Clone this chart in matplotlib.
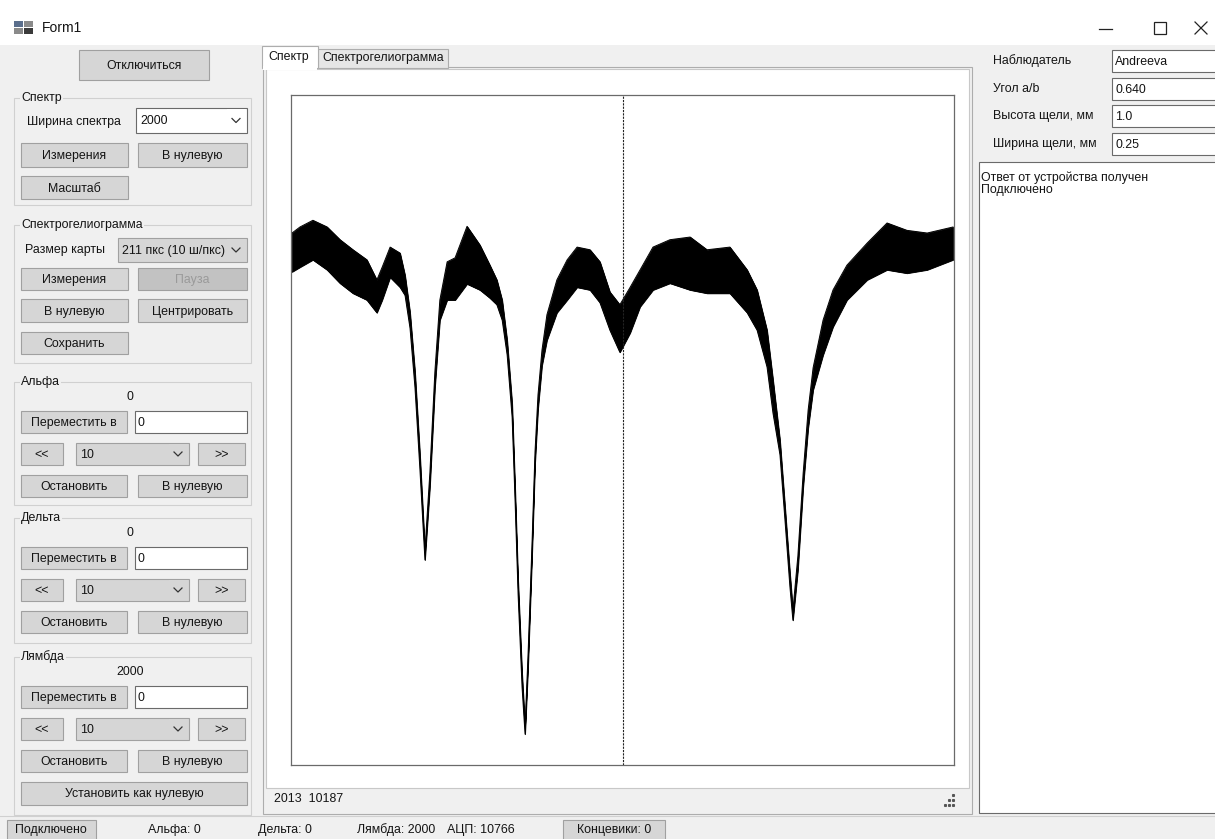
import matplotlib.pyplot as plt
from matplotlib.patches import Rectangle

plt.rcParams['font.family'] = ['Liberation Sans', 'DejaVu Sans']

# spectrum: channel, upper and lower edge of the noisy trace
channel = [3, 27, 66, 109, 148, 187, 229, 259, 275, 299, 329, 344, 359, 374, 389, 404,
           419, 434, 449, 471, 495, 531, 570, 600, 621, 637, 652, 667, 676, 685, 697, 706,
           715, 727, 736, 745, 757, 772, 802, 833, 863, 902, 932, 962, 992, 1023, 1053,
           1092, 1143, 1204, 1255, 1324, 1376, 1406, 1436, 1454, 1475, 1490, 1505, 1514,
           1529, 1545, 1560, 1575, 1605, 1635, 1677, 1738, 1798, 1858, 1919, 1997]
upper = [794, 803, 813, 803, 784, 769, 754, 724, 743, 773, 764, 731, 676, 587, 463, 321,
         437, 587, 694, 751, 757, 804, 776, 746, 724, 694, 634, 540, 413, 276, 137, 58,
         164, 330, 467, 552, 619, 672, 724, 754, 773, 769, 751, 706, 687, 713, 739,
         773, 784, 788, 769, 773, 739, 709, 649, 575, 485, 387, 287, 231,
         312, 436, 530, 593, 664, 709, 746, 779, 809, 798, 794, 803]
lower = [736, 743, 754, 739, 719, 704, 694, 675, 694, 728, 713, 701, 652, 563, 440, 306,
         416, 563, 664, 694, 694, 718, 709, 697, 687, 664, 612, 519, 393, 255, 116, 46,
         146, 312, 449, 531, 596, 634, 675, 694, 713, 709, 690, 649, 616, 645, 684,
         709, 719, 709, 704, 704, 675, 649, 594, 525, 463, 366, 266, 216,
         291, 415, 503, 560, 612, 654, 694, 724, 739, 734, 739, 754]
spectrum_width = 2000
center_channel = 1000

FS = 8.9
INK = '#141414'
BG = '#f0f0f0'
BTN = '#d6d6d6'
BTN_EDGE = '#a0a0a0'

fig = plt.figure(figsize=(12.15, 8.39), dpi=100, facecolor=BG)
ui = fig.add_axes([0, 0, 1, 1])
ui.set_xlim(0, 1215)
ui.set_ylim(839, 0)
ui.axis('off')


def rect(x0, y0, x1, y1, fc, ec, lw=0.8, z=1):
    ui.add_patch(Rectangle((x0, y0), x1 - x0, y1 - y0, facecolor=fc, edgecolor=ec, lw=lw, zorder=z))


def button(x0, y0, x1, y1, label, fc=BTN, color=INK):
    rect(x0, y0, x1, y1, fc, BTN_EDGE, z=2)
    ui.text((x0 + x1) / 2, (y0 + y1) / 2 + 1, label, ha='center', va='center', fontsize=FS, color=color, zorder=3)


def textbox(x0, y0, x1, y1, label):
    rect(x0, y0, x1, y1, 'white', '#6a6a6a', z=2)
    ui.text(x0 + 3, (y0 + y1) / 2 + 1, label, ha='left', va='center', fontsize=FS, color=INK, zorder=3)


def combo(x0, y0, x1, y1, label, fc='white', ec='#6a6a6a'):
    rect(x0, y0, x1, y1, fc, ec, z=2)
    ui.text(x0 + 4, (y0 + y1) / 2 + 1, label, ha='left', va='center', fontsize=FS, color=INK, zorder=3)
    yc = (y0 + y1) / 2
    rect(x1 - 20, y0 + 1, x1 - 1, y1 - 1, fc, 'none', z=3)
    ui.plot([x1 - 15, x1 - 11, x1 - 7], [yc - 2, yc + 2, yc - 2], color='#333333', lw=0.9, zorder=4)


def group(x0, y0, x1, y1, label):
    rect(x0, y0, x1, y1, 'none', '#d0d0d0', z=1)
    ui.text(x0 + 7, y0, label, ha='left', va='center', fontsize=FS, color=INK, zorder=3,
            bbox=dict(fc=BG, ec='none', pad=1))


# title bar
rect(0, 0, 1215, 45, 'white', 'none', z=0)
rect(14, 21, 23, 27, '#5a6e8c', 'none', z=2)
rect(24, 21, 33, 27, '#8a8a8a', 'none', z=2)
rect(14, 28, 23, 34, '#8a8a8a', 'none', z=2)
rect(24, 28, 33, 34, '#3a3a3a', 'none', z=2)
ui.text(42, 28, 'Form1', ha='left', va='center', fontsize=10, color=INK)
ui.plot([1099, 1112], [29, 29], color='#222222', lw=0.9)
rect(1154, 22, 1166, 34, 'none', '#222222', lw=0.9)
ui.plot([1195, 1207], [22, 34], color='#222222', lw=0.9)
ui.plot([1195, 1207], [34, 22], color='#222222', lw=0.9)

# left column
button(79, 50, 209, 80, 'Отключиться')

group(14, 98, 251, 205, 'Спектр')
ui.text(27, 122, 'Ширина спектра', ha='left', va='center', fontsize=FS, color=INK)
combo(136, 108, 247, 133, '2000')
button(21, 143, 128, 167, 'Измерения')
button(138, 143, 247, 167, 'В нулевую')
button(21, 176, 128, 199, 'Масштаб')

group(14, 225, 251, 363, 'Спектрогелиограмма')
ui.text(25, 250, 'Размер карты', ha='left', va='center', fontsize=FS, color=INK)
combo(118, 238, 247, 262, '211 пкс (10 ш/пкс)', fc=BTN, ec=BTN_EDGE)
button(21, 268, 128, 290, 'Измерения')
button(138, 268, 247, 290, 'Пауза', fc='#c2c2c2', color='#9a9a9a')
button(21, 299, 128, 322, 'В нулевую')
button(138, 299, 247, 322, 'Центрировать')
button(21, 332, 128, 354, 'Сохранить')

motors = [('Альфа', '0', 382, 505), ('Дельта', '0', 518, 643), ('Лямбда', '2000', 657, 815)]
for name, value, top, bottom in motors:
    group(14, top, 251, bottom, name)
    ui.text(130, top + 15, value, ha='center', va='center', fontsize=FS, color=INK)
    button(21, top + 29, 127, top + 51, 'Переместить в')
    textbox(135, top + 29, 247, top + 51, '0')
    button(21, top + 61, 63, top + 83, '<<')
    combo(76, top + 61, 189, top + 83, '10', fc=BTN, ec=BTN_EDGE)
    button(198, top + 61, 245, top + 83, '>>')
    button(21, top + 93, 127, top + 115, 'Остановить')
    button(138, top + 93, 247, top + 115, 'В нулевую')
button(21, 782, 247, 805, 'Установить как нулевую')

# tab control
rect(263, 67, 972, 814, BG, '#adadad', z=1)
rect(266, 69, 969, 788, 'white', '#c8c8c8', z=1)
rect(318, 49, 448, 68, '#e6e6e6', '#adadad', z=1)
rect(262, 46, 318, 68, 'white', '#adadad', z=2)
rect(263, 66, 317, 70, 'white', 'none', z=2)
ui.text(268, 57, 'Спектр', ha='left', va='center', fontsize=FS, color=INK, zorder=3)
ui.text(322, 58, 'Спектрогелиограмма', ha='left', va='center', fontsize=FS, color=INK, zorder=3)
ui.text(274, 799, '2013  10187', ha='left', va='center', fontsize=FS, color=INK)
for gx, gy in [(953, 795), (953, 800), (949, 800), (953, 805), (949, 805), (945, 805)]:
    ui.plot(gx, gy, 's', color='#555555', ms=1.2)

# right column
fields = [('Наблюдатель', 'Andreeva'), ('Угол a/b', '0.640'), ('Высота щели, мм', '1.0'),
          ('Ширина щели, мм', '0.25')]
for i, (name, value) in enumerate(fields):
    y0 = 50 + i * 27.7
    ui.text(993, y0 + 11, name, ha='left', va='center', fontsize=FS, color=INK)
    textbox(1112, y0, 1220, y0 + 22, value)
rect(979, 162, 1220, 813, 'white', '#6a6a6a', z=1)
ui.text(981, 171, 'Ответ от устройства получен\nПодключено', ha='left', va='top',
        fontsize=FS, color=INK, linespacing=1.0)

# status bar
ui.plot([0, 1215], [816, 816], color='#d0d0d0', lw=0.8)
rect(7, 820, 96, 840, BTN, BTN_EDGE, z=2)
ui.text(51, 830, 'Подключено', ha='center', va='center', fontsize=FS, color=INK, zorder=3)
for sx, label in [(148, 'Альфа: 0'), (258, 'Дельта: 0'), (357, 'Лямбда: 2000'), (447, 'АЦП: 10766')]:
    ui.text(sx, 830, label, ha='left', va='center', fontsize=FS, color=INK)
rect(563, 820, 665, 840, BTN, BTN_EDGE, z=2)
ui.text(614, 830, 'Концевики: 0', ha='center', va='center', fontsize=FS, color=INK, zorder=3)

# spectrum plot
ax = fig.add_axes([291 / 1215, (839 - 765) / 839, 663 / 1215, 670 / 839])
ax.set_facecolor('white')
ax.fill_between(channel, lower, upper, color='black', lw=0.6, edgecolor='black')
ax.plot(channel, upper, color='black', lw=0.7)
ax.plot(channel, lower, color='black', lw=0.7)
ax.axvline(center_channel, color='#222222', lw=0.8, linestyle=(0, (2, 1)))
ax.set_xlim(0, spectrum_width)
ax.set_ylim(0, 1000)
ax.set_xticks([])
ax.set_yticks([])
for spine in ax.spines.values():
    spine.set_color('#6a6a6a')
    spine.set_linewidth(0.9)

fig.savefig('out.png', dpi=100, facecolor=BG)
